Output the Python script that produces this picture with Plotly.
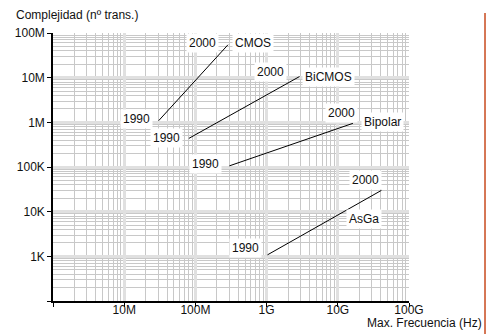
import math
import plotly.graph_objects as go

# Data: (frequency Hz, complexity transistors) for 1990 and 2000
technologies = ["CMOS", "BiCMOS", "Bipolar", "AsGa"]
freq_1990 = [3.05e7, 8.1e7, 3.0e8, 1.03e9]
freq_2000 = [2.87e8, 2.9e9, 1.63e10, 4.1e10]
trans_1990 = [1.09e6, 4.37e5, 1.06e5, 1.08e3]
trans_2000 = [5.46e7, 1.06e7, 9.5e5, 3.0e4]
year_labels = ["1990", "2000"]

x_tickvals = [1e7, 1e8, 1e9, 1e10, 1e11]
x_ticktext = ["10M", "100M", "1G", "10G", "100G"]
y_tickvals = [1e3, 1e4, 1e5, 1e6, 1e7, 1e8]
y_ticktext = ["1K", "10K", "100K", "1M", "10M", "100M"]

FONT = "Liberation Sans, Arial, sans-serif"

fig = go.Figure()
for i, name in enumerate(technologies):
    fig.add_trace(go.Scatter(
        x=[freq_1990[i], freq_2000[i]],
        y=[trans_1990[i], trans_2000[i]],
        mode="lines", line=dict(color="black", width=1),
        showlegend=False, hoverinfo="skip"))

# label offsets (pixels) relative to line endpoints
# (anchor, xshift, yshift) for 1990 label, 2000 label, name label
offs = {
    "CMOS":    [("right", -6, 2), ("right", -9, 2), ("left", 4, 2)],
    "BiCMOS":  [("right", -6, 0), ("right", -13, 5), ("left", 2, 0)],
    "Bipolar": [("right", -7, 2), ("center", -11, 10), ("left", 8, 1)],
    "AsGa":    [("right", -6, 7), ("center", -16, 10), ("center", -17, -29)],
}
annots = []
for i, name in enumerate(technologies):
    o = offs[name]
    pts = [(freq_1990[i], trans_1990[i], year_labels[0], o[0]),
           (freq_2000[i], trans_2000[i], year_labels[1], o[1]),
           (freq_2000[i], trans_2000[i], name, o[2])]
    for (xv, yv, txt, (anc, xs, ys)) in pts:
        annots.append(dict(
            x=math.log10(xv), y=math.log10(yv), xref="x", yref="y",
            text=txt, showarrow=False, xanchor=anc, yanchor="middle",
            xshift=xs, yshift=ys, bgcolor="white", borderpad=2,
            font=dict(size=12, color="#111", family=FONT)))

annots.append(dict(x=-0.1096, y=1.068, xref="paper", yref="paper",
                   text="Complejidad (nº trans.)", showarrow=False,
                   xanchor="left", yanchor="middle",
                   font=dict(size=12, color="#111", family=FONT)))
annots.append(dict(x=1.2098, y=-0.082, xref="paper", yref="paper",
                   text="Max. Frecuencia (Hz)", showarrow=False,
                   xanchor="right", yanchor="middle",
                   font=dict(size=12, color="#111", family=FONT)))

axis_common = dict(
    type="log", showline=True, linecolor="black", linewidth=1.5,
    ticks="outside", ticklen=4, tickcolor="black", tickwidth=1,
    showgrid=True, gridcolor="#e0e0e0", gridwidth=2.5,
    minor=dict(dtick="D1", showgrid=True, gridcolor="#c8c8c8",
               gridwidth=1, ticks=""),
    tickfont=dict(size=12, color="#111", family=FONT),
    zeroline=False, mirror=False, automargin=False,
)

fig.update_layout(
    width=486, height=334,
    margin=dict(l=53, r=77, t=33, b=33, autoexpand=False),
    paper_bgcolor="white", plot_bgcolor="white",
    xaxis=dict(axis_common, range=[6, 11], tickmode="array",
               tickvals=[1e6] + x_tickvals, ticktext=[""] + x_ticktext,
               ticklabelstandoff=-7),
    yaxis=dict(axis_common, range=[2, 8], tickmode="array",
               tickvals=[1e2] + y_tickvals, ticktext=[""] + y_ticktext),
    annotations=annots,
    shapes=[dict(type="line", xref="paper", yref="paper",
                 x0=1.2135, x1=1.2135, y0=1.0748, y1=-0.13,
                 line=dict(color="#c84a1e", width=1.5))],
)

fig.write_html("out.html",
               config={"displayModeBar": False},
               post_script="document.body.style.margin='0';"
                           "document.body.style.overflow='hidden';")
